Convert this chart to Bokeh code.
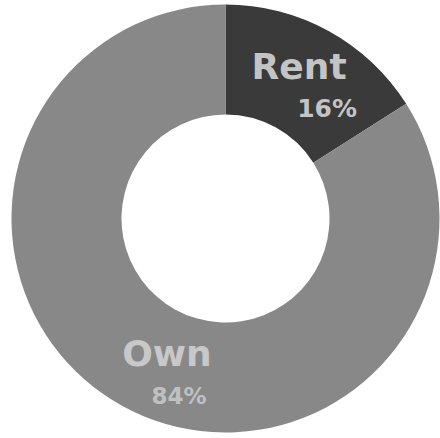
import math
from bokeh.plotting import figure
from bokeh.models import Range1d, ColumnDataSource
from bokeh.core.properties import value
from bokeh.embed import file_html
from bokeh.resources import INLINE

# ---- data ----
categories = ["Rent", "Own"]
shares = [16, 84]
pct_labels = ["16%", "84%"]

# ---- style / layout ----
W, H = 440, 438
cx, cy = 225, H - 218
r_in, r_out = 104, 214
colors = ["#3a3a3a", "#888888"]
name_colors = ["#c4c4c4", "#c8c8c8"]
pct_colors = ["#c4c4c4", "#c0c0c0"]
name_sizes = ["36px", "36px"]
pct_sizes = ["25px", "23px"]
# label offsets (pixels) from the wedge mid-point at mid radius
name_off = [(-3, 13), (18, 4)]
pct_off = [(25, -29), (30, -38)]

total = float(sum(shares))
starts, ends = [], []
a = math.pi / 2
for s in shares:
    starts.append(a)
    a -= 2 * math.pi * s / total
    ends.append(a)

r_mid = (r_in + r_out) / 2
mids = [(s + e) / 2 for s, e in zip(starts, ends)]
ax = [cx + r_mid * math.cos(m) for m in mids]
ay = [cy + r_mid * math.sin(m) for m in mids]

src = ColumnDataSource(dict(cat=categories, start=starts, end=ends, color=colors))

p = figure(width=W, height=H, output_backend="svg", toolbar_location=None,
           x_range=Range1d(0, W), y_range=Range1d(0, H), min_border=0,
           background_fill_color="white", border_fill_color="white")
p.axis.visible = False
p.grid.visible = False
p.outline_line_color = None

p.annular_wedge(x=cx, y=cy, inner_radius=r_in, outer_radius=r_out,
                start_angle="start", end_angle="end", direction="clock",
                fill_color="color", line_color=None, source=src)

for i in range(len(categories)):
    p.text(x=[ax[i] + name_off[i][0]], y=[ay[i] + name_off[i][1]], text=[categories[i]],
           text_font=value("DejaVu Sans"), text_font_style="bold",
           text_font_size=name_sizes[i], text_color=name_colors[i],
           text_align="center", text_baseline="middle")
    p.text(x=[ax[i] + pct_off[i][0]], y=[ay[i] + pct_off[i][1]], text=[pct_labels[i]],
           text_font=value("DejaVu Sans"), text_font_style="bold",
           text_font_size=pct_sizes[i], text_color=pct_colors[i],
           text_align="center", text_baseline="middle")

open("out.html", "w").write(file_html(p, INLINE))
